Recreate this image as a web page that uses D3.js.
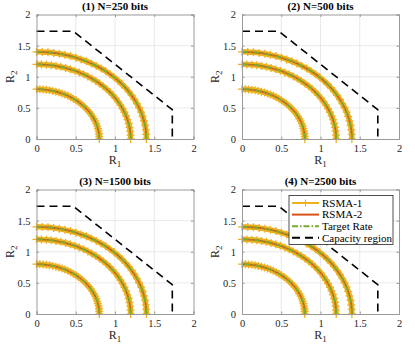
<!DOCTYPE html>
<html>
<head>
<meta charset="utf-8">
<script src="https://cdn.jsdelivr.net/npm/d3@7"></script>
<style>
  body { margin: 0; background: #fff; }
  svg, svg text { font-family: "Liberation Serif", "Times New Roman", Times, "DejaVu Serif", serif; }
</style>
</head>
<body>
<svg width="415" height="350"></svg>
<script>
// panel titles
let titles = ["(1) N=250 bits", "(2) N=500 bits", "(3) N=1500 bits", "(4) N=2500 bits"];
let tickValues = [0, 0.5, 1, 1.5, 2];
let tickLabels = ["0", "0.5", "1", "1.5", "2"];

// rate points (same in every panel)
let r1Small = [0.8, 0.799, 0.796, 0.790, 0.782, 0.773, 0.761, 0.747, 0.731, 0.713, 0.693, 0.671, 0.647, 0.622, 0.594, 0.566, 0.535, 0.503, 0.470, 0.436, 0.400, 0.363, 0.325, 0.287, 0.247, 0.207, 0.166, 0.125, 0.084, 0.042, 0];
let r2Small = [0, 0.042, 0.084, 0.125, 0.166, 0.207, 0.247, 0.287, 0.325, 0.363, 0.400, 0.436, 0.470, 0.503, 0.535, 0.566, 0.594, 0.622, 0.647, 0.671, 0.693, 0.713, 0.731, 0.747, 0.761, 0.773, 0.782, 0.790, 0.796, 0.799, 0.8];
let r1Mid = [1.2, 1.198, 1.193, 1.185, 1.174, 1.159, 1.141, 1.120, 1.096, 1.069, 1.039, 1.006, 0.971, 0.933, 0.892, 0.849, 0.803, 0.755, 0.705, 0.654, 0.600, 0.545, 0.488, 0.430, 0.371, 0.311, 0.249, 0.188, 0.125, 0.063, 0];
let r2Mid = [0, 0.063, 0.125, 0.188, 0.249, 0.311, 0.371, 0.430, 0.488, 0.545, 0.600, 0.654, 0.705, 0.755, 0.803, 0.849, 0.892, 0.933, 0.971, 1.006, 1.039, 1.069, 1.096, 1.120, 1.141, 1.159, 1.174, 1.185, 1.193, 1.198, 1.2];
let r1Big = [1.4, 1.398, 1.392, 1.383, 1.369, 1.352, 1.332, 1.307, 1.279, 1.247, 1.212, 1.174, 1.133, 1.088, 1.040, 0.990, 0.937, 0.881, 0.823, 0.762, 0.700, 0.636, 0.569, 0.502, 0.433, 0.362, 0.291, 0.219, 0.146, 0.073, 0];
let r2Big = [0, 0.073, 0.146, 0.219, 0.291, 0.362, 0.433, 0.502, 0.569, 0.636, 0.700, 0.762, 0.823, 0.881, 0.937, 0.990, 1.040, 1.088, 1.133, 1.174, 1.212, 1.247, 1.279, 1.307, 1.332, 1.352, 1.369, 1.383, 1.392, 1.398, 1.4];

// capacity region boundary
let capR1 = [0, 0.47, 1.73, 1.73];
let capR2 = [1.73, 1.73, 0.47, 0];

let legendNames = ["RSMA-1", "RSMA-2", "Target Rate", "Capacity region"];

let fontFam = "'Liberation Serif', 'Times New Roman', Times, 'DejaVu Serif', serif";
let panelW = 157;
let panelH = 124.5;
let lefts = [36.5, 242];
let tops = [14.5, 189.5];

let colRsma1 = "#EDB120";
let colRsma2 = "#D95319";
let colTarget = "#77AC30";

let svg = d3.select("svg");

let xScale = d3.scaleLinear().domain([0, 2]).range([0, panelW]);
let yScale = d3.scaleLinear().domain([0, 2]).range([panelH, 0]);

let arcs = [
  [r1Small, r2Small],
  [r1Mid, r2Mid],
  [r1Big, r2Big]
].map((a) => a[0].map((v, i) => [v, a[1][i]]));
let capacity = capR1.map((v, i) => [v, capR2[i]]);

let line = d3.line()
  .x((d) => xScale(d[0]))
  .y((d) => yScale(d[1]))
  .curve(d3.curveNatural);
let capLine = d3.line()
  .x((d) => xScale(d[0]))
  .y((d) => yScale(d[1]));

let plusPath = (s) => "M" + -s + ",0H" + s + "M0," + -s + "V" + s;

let drawPanel = (idx) => {
  let left = lefts[idx % 2];
  let top = tops[Math.floor(idx / 2)];
  let g = svg.append("g").attr("transform", "translate(" + left + "," + top + ")");

  // grid
  g.append("g")
    .selectAll("line")
    .data(tickValues.slice(1, -1))
    .enter()
    .append("line")
    .attr("x1", (d) => xScale(d)).attr("x2", (d) => xScale(d))
    .attr("y1", 0).attr("y2", panelH)
    .attr("stroke", "#e3e3e3").attr("stroke-width", 0.8);
  g.append("g")
    .selectAll("line")
    .data(tickValues.slice(1, -1))
    .enter()
    .append("line")
    .attr("y1", (d) => yScale(d)).attr("y2", (d) => yScale(d))
    .attr("x1", 0).attr("x2", panelW)
    .attr("stroke", "#e3e3e3").attr("stroke-width", 0.8);

  let plot = g.append("g");
  arcs.forEach((pts) => {
    // RSMA-1: thick line with + markers
    plot.append("path").attr("d", line(pts))
      .attr("fill", "none").attr("stroke", colRsma1).attr("stroke-width", 5.5);
    plot.selectAll(null).data(pts).enter().append("path")
      .attr("transform", (d) => "translate(" + xScale(d[0]) + "," + yScale(d[1]) + ")")
      .attr("d", plusPath(4))
      .attr("stroke", colRsma1).attr("stroke-width", 1.3).attr("fill", "none");
    // RSMA-2
    plot.append("path").attr("d", line(pts))
      .attr("fill", "none").attr("stroke", colRsma2).attr("stroke-width", 1.6);
    // target rate dash-dot
    plot.append("path").attr("d", line(pts))
      .attr("fill", "none").attr("stroke", colTarget).attr("stroke-width", 1.8)
      .attr("stroke-dasharray", "6,2,1.5,2");
  });

  plot.append("path").attr("d", capLine(capacity))
    .attr("fill", "none").attr("stroke", "#000").attr("stroke-width", 1.6)
    .attr("stroke-dasharray", "8,5");

  // axes (MATLAB box style, ticks inward)
  let xAxis = d3.axisBottom(xScale).tickValues(tickValues)
    .tickFormat((d, i) => tickLabels[i]).tickSize(-2.5).tickPadding(6);
  let yAxis = d3.axisLeft(yScale).tickValues(tickValues)
    .tickFormat((d, i) => tickLabels[i]).tickSize(-2.5).tickPadding(6);
  let xTop = d3.axisTop(xScale).tickValues(tickValues).tickFormat("").tickSize(-2.5);
  let yRight = d3.axisRight(yScale).tickValues(tickValues).tickFormat("").tickSize(-2.5);

  let styleAxis = (sel) => {
    sel.attr("font-family", fontFam).attr("font-size", 10.5);
    sel.select(".domain").attr("stroke", "#9a9a9a");
    sel.selectAll(".tick line").attr("stroke", "#9a9a9a");
    sel.selectAll(".tick text").attr("fill", "#262626");
  };
  g.append("g").attr("transform", "translate(0," + panelH + ")").call(xAxis).call(styleAxis);
  g.append("g").call(yAxis).call(styleAxis);
  g.append("g").call(xTop).call(styleAxis);
  g.append("g").attr("transform", "translate(" + panelW + ",0)").call(yRight).call(styleAxis);

  // title
  g.append("text")
    .attr("x", panelW / 2).attr("y", -4.5)
    .attr("text-anchor", "middle")
    .attr("font-family", fontFam)
    .attr("font-weight", "bold").attr("font-size", 11)
    .attr("fill", "#000")
    .text(titles[idx]);

  // x label
  let xl = g.append("text")
    .attr("x", panelW / 2).attr("y", panelH + 25)
    .attr("text-anchor", "middle")
    .attr("font-family", fontFam)
    .attr("font-size", 12).attr("fill", "#262626");
  xl.append("tspan").text("R");
  xl.append("tspan").attr("dy", 3).attr("font-size", 9).text("1");

  // y label
  let yl = g.append("text")
    .attr("transform", "translate(-23," + panelH / 2 + ") rotate(-90)")
    .attr("text-anchor", "middle")
    .attr("font-family", fontFam)
    .attr("font-size", 12).attr("fill", "#262626");
  yl.append("tspan").text("R");
  yl.append("tspan").attr("dy", 3).attr("font-size", 9).text("2");

  if (idx === 3) drawLegend(g);
};

let drawLegend = (g) => {
  let lx = 47;
  let ly = 6;
  let lg = g.append("g").attr("transform", "translate(" + lx + "," + ly + ")");
  lg.append("rect").attr("width", 104).attr("height", 49)
    .attr("fill", "#fff").attr("stroke", "#262626").attr("stroke-width", 0.8);
  legendNames.forEach((name, i) => {
    let y = 7.5 + i * 11.6;
    let row = lg.append("g").attr("transform", "translate(0," + y + ")");
    if (i === 0) {
      row.append("line").attr("x1", 3).attr("x2", 30).attr("stroke", colRsma1).attr("stroke-width", 2);
      row.append("path").attr("transform", "translate(16.5,0)").attr("d", plusPath(3.5))
        .attr("stroke", colRsma1).attr("stroke-width", 1.2);
    } else if (i === 1) {
      row.append("line").attr("x1", 3).attr("x2", 30).attr("stroke", colRsma2).attr("stroke-width", 2);
    } else if (i === 2) {
      row.append("line").attr("x1", 3).attr("x2", 30).attr("stroke", colTarget).attr("stroke-width", 2)
        .attr("stroke-dasharray", "6,2,1.5,2");
    } else {
      row.append("line").attr("x1", 3).attr("x2", 30).attr("stroke", "#000").attr("stroke-width", 2)
        .attr("stroke-dasharray", "8,5");
    }
    row.append("text").attr("x", 33).attr("y", 3.8)
      .attr("font-family", fontFam)
      .attr("font-size", 11).attr("fill", "#000").text(name);
  });
};

titles.forEach((t, i) => drawPanel(i));
</script>
</body>
</html>
